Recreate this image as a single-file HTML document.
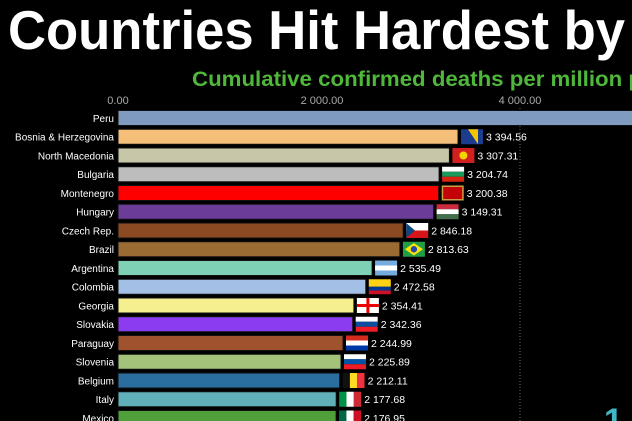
<!DOCTYPE html>
<html><head><meta charset="utf-8"><style>
html,body{margin:0;padding:0;background:#000;width:632px;height:421px;overflow:hidden}
svg{display:block}
text{font-family:"Liberation Sans",sans-serif}
</style></head><body>
<svg width="632" height="421" viewBox="0 0 632 421" xmlns="http://www.w3.org/2000/svg">
<rect width="632" height="421" fill="#000"/>
<text x="8" y="49" font-size="55" font-weight="bold" fill="#fff" textLength="617" lengthAdjust="spacingAndGlyphs">Countries Hit Hardest by</text>
<text x="192" y="86" font-size="21" font-weight="bold" fill="#4fb83a" textLength="450" lengthAdjust="spacingAndGlyphs">Cumulative confirmed deaths per million p</text>
<g font-size="11" fill="#aaa" text-anchor="middle">
<text x="118" y="104">0.00</text><text x="322" y="104">2 000.00</text><text x="520" y="104">4 000.00</text>
</g>
<line x1="520" y1="108" x2="520" y2="421" stroke="#666" stroke-dasharray="1,2"/>
<g stroke="#111" stroke-width="1">
<rect x="118" y="110.5" width="520" height="15" fill="#7f9bbf"/>
<rect x="118" y="129.25" width="340" height="15" fill="#f5bf7a"/>
<rect x="118" y="148" width="331.4" height="15" fill="#c8c6a8"/>
<rect x="118" y="166.75" width="321.1" height="15" fill="#bdbdbd"/>
<rect x="118" y="185.5" width="320.7" height="15" fill="#ff0000"/>
<rect x="118" y="204.25" width="315.6" height="15" fill="#6b3d99"/>
<rect x="118" y="223" width="285.2" height="15" fill="#8b4a22"/>
<rect x="118" y="241.75" width="281.9" height="15" fill="#9a6b32"/>
<rect x="118" y="260.5" width="254.1" height="15" fill="#7fd1b5"/>
<rect x="118" y="279.25" width="247.8" height="15" fill="#a3bfe6"/>
<rect x="118" y="298" width="235.9" height="15" fill="#f5ef8f"/>
<rect x="118" y="316.75" width="234.7" height="15" fill="#8c3cf0"/>
<rect x="118" y="335.5" width="225" height="15" fill="#a0522d"/>
<rect x="118" y="354.25" width="223" height="15" fill="#a3c27a"/>
<rect x="118" y="373" width="221.6" height="15" fill="#2a6d9f"/>
<rect x="118" y="391.75" width="218.2" height="15" fill="#5fb0b8"/>
<rect x="118" y="410.5" width="218.1" height="15" fill="#4fa03a"/>
</g>
<g>
<rect x="461" y="129.25" width="22" height="15" fill="#1b3c8f"/><polygon points="468,129.25 478,129.25 478,144.25" fill="#f5c400"/>
<rect x="452.4" y="148" width="22" height="15" fill="#d21f1f"/><circle cx="463.4" cy="155.5" r="4" fill="#f5d300"/>
<rect x="442.1" y="166.75" width="22" height="5" fill="#fff"/><rect x="442.1" y="171.75" width="22" height="5" fill="#1a9a5a"/><rect x="442.1" y="176.75" width="22" height="5" fill="#d62612"/>
<rect x="441.7" y="185.5" width="22" height="15" fill="#c8a040"/><rect x="443.2" y="187" width="19" height="12" fill="#c40308"/>
<rect x="436.6" y="204.25" width="22" height="5" fill="#cd2a3e"/><rect x="436.6" y="209.25" width="22" height="5" fill="#fff"/><rect x="436.6" y="214.25" width="22" height="5" fill="#436f4d"/>
<rect x="406.2" y="223" width="22" height="7.5" fill="#fff"/><rect x="406.2" y="230.5" width="22" height="7.5" fill="#d7141a"/><polygon points="406.2,223 415,230.5 406.2,238" fill="#11457e"/>
<rect x="402.9" y="241.75" width="22" height="15" fill="#229e45"/><polygon points="413.9,243 423,249.25 413.9,255.5 404.8,249.25" fill="#f8e509"/><circle cx="413.9" cy="249.25" r="3.2" fill="#2b49a3"/>
<rect x="375.1" y="260.5" width="22" height="15" fill="#74acdf"/><rect x="375.1" y="265.5" width="22" height="5" fill="#fff"/>
<rect x="368.8" y="279.25" width="22" height="7.5" fill="#fcd116"/><rect x="368.8" y="286.75" width="22" height="3.75" fill="#003893"/><rect x="368.8" y="290.5" width="22" height="3.75" fill="#ce1126"/>
<rect x="356.9" y="298" width="22" height="15" fill="#fff"/><rect x="366.4" y="298" width="3" height="15" fill="#e00"/><rect x="356.9" y="304" width="22" height="3" fill="#e00"/>
<rect x="355.7" y="316.75" width="22" height="5" fill="#fff"/><rect x="355.7" y="321.75" width="22" height="5" fill="#0b4ea2"/><rect x="355.7" y="326.75" width="22" height="5" fill="#ee1c25"/>
<rect x="346" y="335.5" width="22" height="5" fill="#d52b1e"/><rect x="346" y="340.5" width="22" height="5" fill="#fff"/><rect x="346" y="345.5" width="22" height="5" fill="#0038a8"/>
<rect x="344" y="354.25" width="22" height="5" fill="#fff"/><rect x="344" y="359.25" width="22" height="5" fill="#0054a6"/><rect x="344" y="364.25" width="22" height="5" fill="#ed1c24"/>
<rect x="342.6" y="373" width="7.3" height="15" fill="#111"/><rect x="349.9" y="373" width="7.3" height="15" fill="#fdda24"/><rect x="357.2" y="373" width="7.3" height="15" fill="#ef3340"/>
<rect x="339.2" y="391.75" width="7.3" height="15" fill="#009246"/><rect x="346.5" y="391.75" width="7.3" height="15" fill="#fff"/><rect x="353.8" y="391.75" width="7.3" height="15" fill="#ce2b37"/>
<rect x="339.1" y="410.5" width="7.3" height="15" fill="#006847"/><rect x="346.4" y="410.5" width="7.3" height="15" fill="#fff"/><rect x="353.7" y="410.5" width="7.3" height="15" fill="#ce1126"/>
</g>
<g font-size="10" fill="#fff" text-anchor="end">
<text x="114" y="122">Peru</text>
<text x="114" y="140.5">Bosnia &amp; Herzegovina</text>
<text x="114" y="159.3">North Macedonia</text>
<text x="114" y="178">Bulgaria</text>
<text x="114" y="196.8">Montenegro</text>
<text x="114" y="215.5">Hungary</text>
<text x="114" y="234.3">Czech Rep.</text>
<text x="114" y="253">Brazil</text>
<text x="114" y="271.8">Argentina</text>
<text x="114" y="290.5">Colombia</text>
<text x="114" y="309.3">Georgia</text>
<text x="114" y="328">Slovakia</text>
<text x="114" y="346.8">Paraguay</text>
<text x="114" y="365.5">Slovenia</text>
<text x="114" y="384.3">Belgium</text>
<text x="114" y="403">Italy</text>
<text x="114" y="421.8">Mexico</text>
</g>
<g font-size="10.5" fill="#fff">
<text x="486" y="140.5">3 394.56</text>
<text x="477.4" y="159.3">3 307.31</text>
<text x="467.1" y="178">3 204.74</text>
<text x="466.7" y="196.8">3 200.38</text>
<text x="461.6" y="215.5">3 149.31</text>
<text x="431.2" y="234.3">2 846.18</text>
<text x="427.9" y="253">2 813.63</text>
<text x="400.1" y="271.8">2 535.49</text>
<text x="393.8" y="290.5">2 472.58</text>
<text x="381.9" y="309.3">2 354.41</text>
<text x="380.7" y="328">2 342.36</text>
<text x="371" y="346.8">2 244.99</text>
<text x="369" y="365.5">2 225.89</text>
<text x="367.6" y="384.3">2 212.11</text>
<text x="364.2" y="403">2 177.68</text>
<text x="364.1" y="421.8">2 176.95</text>
</g>
<text x="604" y="432" font-size="34" font-weight="bold" fill="#3fb8c8">1</text>
</svg>
</body></html>
